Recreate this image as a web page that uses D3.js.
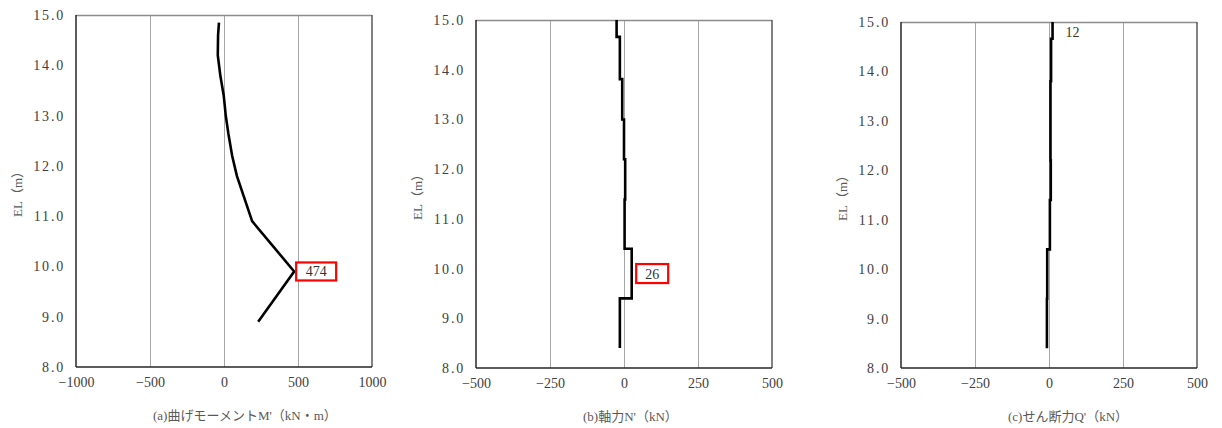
<!DOCTYPE html>
<html><head><meta charset="utf-8">
<script src="https://cdn.jsdelivr.net/npm/d3@7"></script>
<style>
body{margin:0;background:#fff;}
svg{display:block;}
.tick text{font-family:"Liberation Serif",serif;}
</style></head>
<body><svg id="c" width="1222" height="428"></svg>
<script>
// ---- data ----
const yTicks = [8, 9, 10, 11, 12, 13, 14, 15];
const xTicksM = [-1000, -500, 0, 500, 1000];
const xTicksNQ = [-500, -250, 0, 250, 500];

// (a) bending moment: polyline
const M_EL  = [14.85, 14.6, 14.2, 13.8, 13.4, 13.0, 12.65, 12.2, 11.8, 10.9, 9.9, 8.9];
const M_val = [-34, -40, -42, -25, -2, 12, 29, 55, 87, 190, 474, 231];

// (b) axial force: step (segment boundaries + value per segment)
const N_EL  = [15.0, 14.66, 13.81, 13.0, 12.2, 11.39, 10.4, 9.4, 8.4];
const N_val = [-25, -14, -6, 0, 4, 2, 26, -14];

// (c) shear force: step
const Q_EL  = [15.0, 14.66, 13.8, 12.2, 11.4, 10.4, 9.4, 8.4];
const Q_val = [12, 7, 5, 6, 3, -6, -7];

const titles = ["(a)曲げモーメントM'（kN・m）", "(b)軸力N'（kN）", "(c)せん断力Q'（kN）"];

// ---- drawing ----
const svg = d3.select("#c");
const fmt1 = d3.format(".1f");
const fmtX = d => d < 0 ? "−" + Math.abs(d) : String(d);

function stepPoints(els, vals){
  const pts = [];
  vals.forEach((v,i)=>{ pts.push([v, els[i]]); pts.push([v, els[i+1]]); });
  return pts;
}

const panels = [
  {x0:76,  x1:372,  y0:15, y1:367, dom:[-1000,1000], ticks:xTicksM, title:titles[0], titleDx:77,
   pts: M_EL.map((e,i)=>[M_val[i], e]),
   label:{v:474, el:9.9, text:"474", box:true, dx:2, w:40, h:18}},
  {x0:476, x1:772,  y0:20, y1:368, dom:[-500,500], ticks:xTicksNQ, title:titles[1], titleDx:107,
   pts: stepPoints(N_EL, N_val),
   label:{v:26, el:9.9, text:"26", box:true, dx:4.5, w:32, h:19}},
  {x0:901, x1:1197, y0:22, y1:368, dom:[-500,500], ticks:xTicksNQ, title:titles[2], titleDx:107,
   pts: stepPoints(Q_EL, Q_val),
   label:{v:12, el:14.8, text:"12", box:false, dx:13, w:0, h:0}}
];

panels.forEach(p=>{
  const x = d3.scaleLinear().domain(p.dom).range([p.x0, p.x1]);
  const y = d3.scaleLinear().domain([8,15]).range([p.y1, p.y0]);
  const g = svg.append("g");

  // gridlines
  g.selectAll(".grid").data(p.ticks.slice(1,-1)).join("line")
    .attr("x1", d=>Math.round(x(d))+0.5).attr("x2", d=>Math.round(x(d))+0.5)
    .attr("y1", p.y0).attr("y2", p.y1)
    .attr("stroke", "#a6a6a6").attr("stroke-width", 1);

  // frame
  g.append("line").attr("x1",p.x0).attr("x2",p.x1).attr("y1",p.y0+0.5).attr("y2",p.y0+0.5)
    .attr("stroke","#8c8c8c").attr("stroke-width",1.5);
  g.append("line").attr("x1",p.x1).attr("x2",p.x1).attr("y1",p.y0).attr("y2",p.y1)
    .attr("stroke","#595959").attr("stroke-width",1.5);
  g.append("line").attr("x1",p.x0).attr("x2",p.x0).attr("y1",p.y0).attr("y2",p.y1)
    .attr("stroke","#262626").attr("stroke-width",1.5);
  g.append("line").attr("x1",p.x0).attr("x2",p.x1).attr("y1",p.y1).attr("y2",p.y1)
    .attr("stroke","#262626").attr("stroke-width",1.5);

  // y axis
  const ya = d3.axisLeft(y).tickValues(yTicks).tickFormat(fmt1).tickSize(0).tickPadding(11);
  const yg = g.append("g").attr("transform",`translate(${p.x0},0)`).call(ya);
  yg.select(".domain").remove();
  yg.selectAll("text").attr("font-size",14).attr("fill","#404040").attr("letter-spacing","1.8px");

  // x axis
  const xa = d3.axisBottom(x).tickValues(p.ticks).tickFormat(fmtX).tickSize(0).tickPadding(10);
  const xg = g.append("g").attr("transform",`translate(0,${p.y1})`).call(xa);
  xg.select(".domain").remove();
  xg.selectAll("text").attr("font-size",14).attr("fill","#404040");

  // y title
  const cy = (p.y0+p.y1)/2;
  g.append("text").attr("transform",`translate(${p.x0-54},${cy}) rotate(-90)`)
    .attr("text-anchor","middle").attr("font-family","'Liberation Serif','Noto Sans CJK JP',serif")
    .attr("font-size",13).attr("fill","#595959").text("EL（m）");

  // x title
  g.append("text").attr("x", p.x0 + p.titleDx).attr("y", p.y1 + 53)
    .attr("font-family","'Liberation Serif','Noto Sans CJK JP',serif")
    .attr("font-size",13).attr("fill","#595959").text(p.title);

  // data line
  const line = d3.line().x(d=>x(d[0])).y(d=>y(d[1]));
  g.append("path").datum(p.pts).attr("d", line)
    .attr("fill","none").attr("stroke","#000").attr("stroke-width",2.6)
    .attr("stroke-linejoin","miter");

  // label
  const L = p.label;
  const lx = x(L.v) + L.dx, ly = y(L.el);
  if (L.box){
    g.append("rect").attr("x", lx).attr("y", ly - L.h/2).attr("width", L.w).attr("height", L.h)
      .attr("fill","#fff").attr("stroke","#ff0000").attr("stroke-width",2.2);
    g.append("text").attr("x", lx + L.w/2).attr("y", ly + 5).attr("text-anchor","middle")
      .attr("font-family","'Liberation Serif',serif").attr("font-size",14).attr("fill","#333").text(L.text);
  } else {
    g.append("text").attr("x", lx).attr("y", ly + 5)
      .attr("font-family","'Liberation Serif',serif").attr("font-size",14).attr("fill","#333").text(L.text);
  }
});
</script></body></html>
